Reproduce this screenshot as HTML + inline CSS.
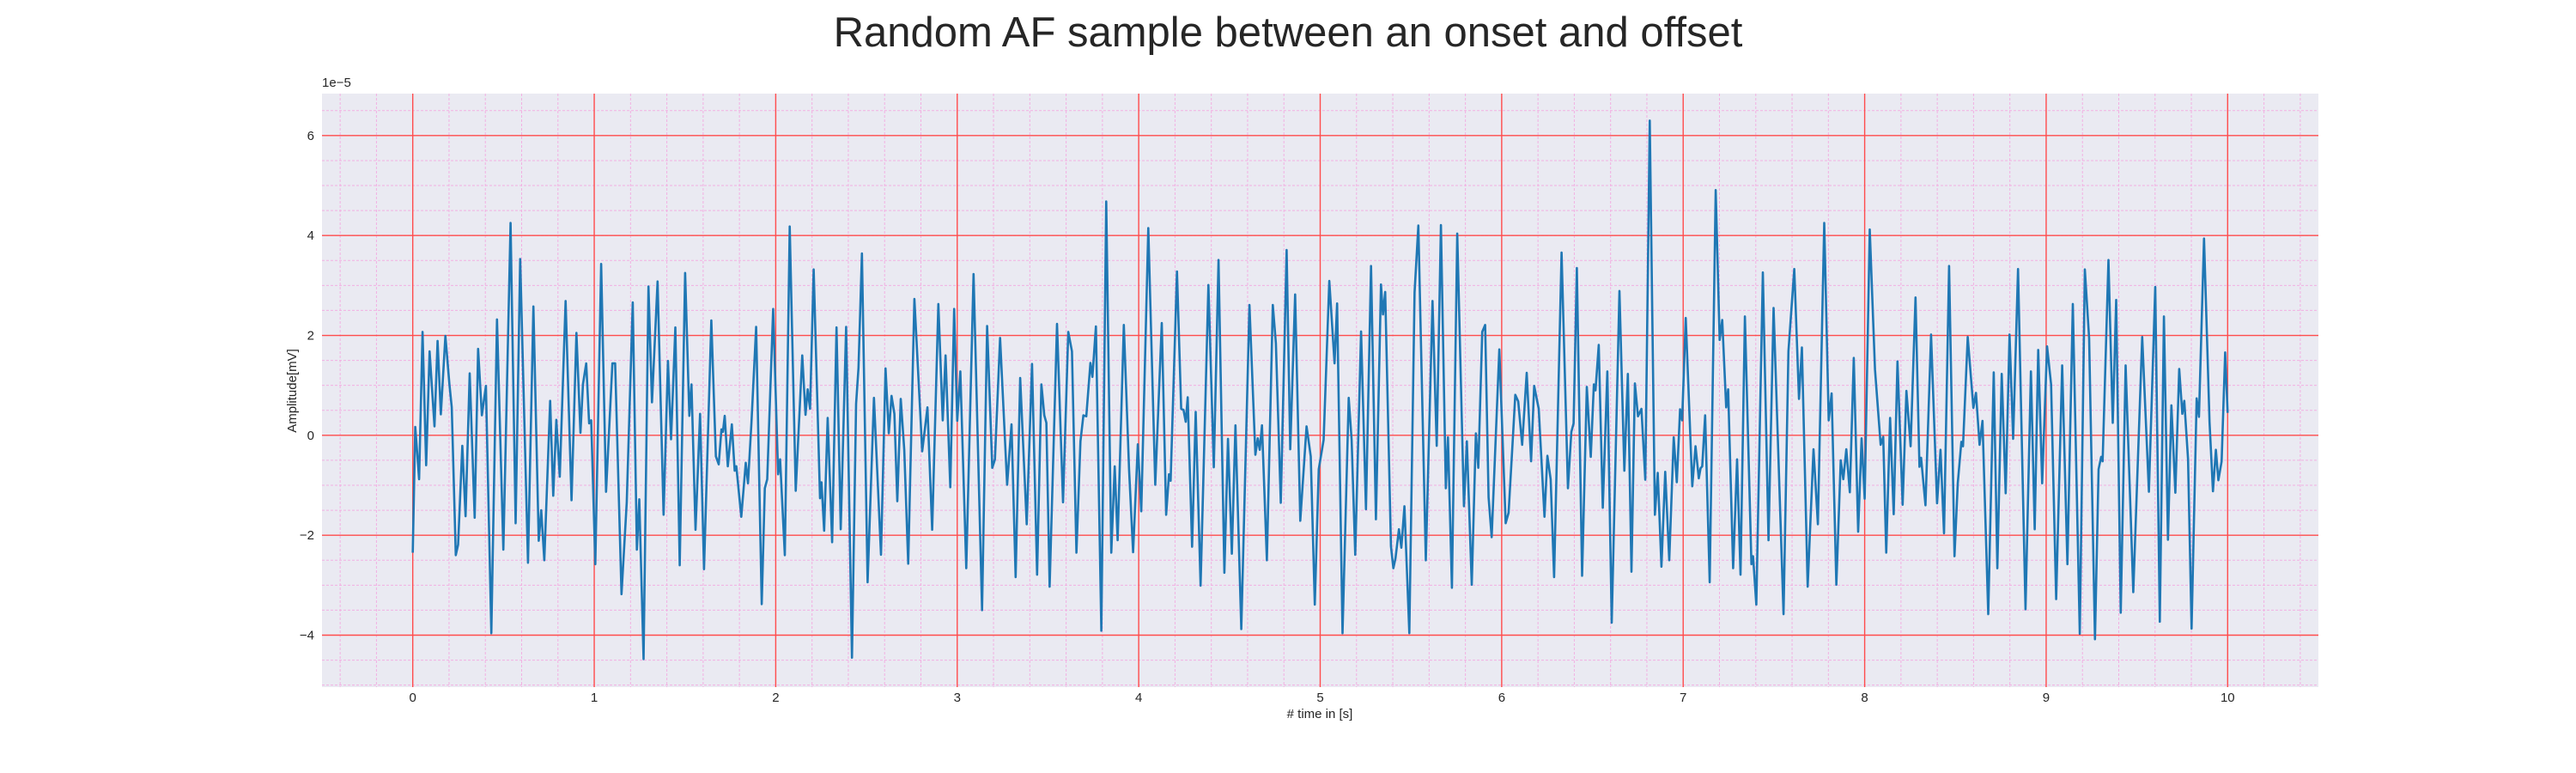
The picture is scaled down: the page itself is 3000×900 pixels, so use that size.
<!DOCTYPE html>
<html><head><meta charset="utf-8">
<style>
html,body{margin:0;padding:0;background:#fff;}
svg{display:block;font-family:"Liberation Sans",sans-serif;}
</style></head>
<body>
<svg id="chart" width="3000" height="900" viewBox="0 0 3000 900" xmlns="http://www.w3.org/2000/svg">
<text x="1500" y="54" text-anchor="middle" font-size="49" fill="#262626">Random AF sample between an onset and offset</text>
<rect x="375" y="109" width="2325" height="691" fill="#eaeaf2"/>
<g id="grid"></g>
<g id="ticks"></g>
<path id="series" fill="none" stroke="#1f77b4" stroke-width="2.6" stroke-linejoin="round"/>
<text x="375" y="101" font-size="15" fill="#262626">1e−5</text>
<text x="1537" y="836" text-anchor="middle" font-size="15" fill="#262626"># time in [s]</text>
<text x="0" y="0" transform="translate(345,455) rotate(-90)" text-anchor="middle" font-size="15" fill="#262626">Amplitude[mV]</text>
</svg>
<script>
const xTicks=[0,1,2,3,4,5,6,7,8,9,10];
const yTicks=[-4,-2,0,2,4,6];
const times=[0,0.014,0.035,0.054,0.074,0.093,0.12,0.137,0.155,0.18,0.202,0.215,0.237,0.25,0.273,0.291,0.314,0.341,0.36,0.381,0.403,0.433,0.464,0.499,0.539,0.567,0.592,0.635,0.665,0.694,0.708,0.725,0.757,0.774,0.791,0.81,0.842,0.875,0.902,0.924,0.938,0.956,0.972,0.983,1.006,1.038,1.065,1.1,1.115,1.15,1.179,1.212,1.235,1.248,1.272,1.299,1.318,1.349,1.382,1.406,1.423,1.447,1.471,1.501,1.524,1.536,1.558,1.583,1.605,1.645,
1.67,1.686,1.701,1.709,1.719,1.736,1.758,1.774,1.783,1.81,1.835,1.847,1.866,1.892,1.923,1.94,1.953,1.986,2.013,2.024,2.05,2.077,2.11,2.146,2.164,2.176,2.189,2.209,2.244,2.252,2.267,2.286,2.311,2.335,2.358,2.388,2.42,2.443,2.456,2.475,2.506,2.541,2.58,2.605,2.623,2.638,2.654,2.67,2.689,2.708,2.73,2.764,2.807,2.836,2.862,2.896,2.92,2.936,2.962,2.983,3.0,3.017,3.05,3.09,3.137,3.165,3.193,3.208,3.236,3.275,3.299,3.322,3.347,3.383,
3.412,3.44,3.464,3.48,3.491,3.509,3.55,3.583,3.612,3.632,3.657,3.679,3.695,3.711,3.734,3.745,3.764,3.794,3.821,3.849,3.868,3.884,3.918,3.947,3.969,3.995,4.014,4.053,4.091,4.127,4.151,4.167,4.176,4.211,4.234,4.247,4.259,4.27,4.294,4.314,4.341,4.384,4.414,4.44,4.472,4.492,4.513,4.533,4.565,4.61,4.643,4.656,4.667,4.679,4.706,4.739,4.756,4.783,4.815,4.835,4.862,4.89,4.925,4.948,4.97,4.992,5.019,5.05,5.079,5.093,5.123,
5.157,5.173,5.193,5.225,5.252,5.28,5.307,5.335,5.346,5.358,5.39,5.403,5.415,5.434,5.447,5.464,5.491,5.52,5.541,5.582,5.619,5.642,5.665,5.692,5.704,5.726,5.755,5.792,5.808,5.835,5.858,5.871,5.893,5.909,5.928,5.945,5.987,6.022,6.038,6.058,6.075,6.091,6.113,6.138,6.162,6.179,6.204,6.236,6.252,6.27,6.289,6.33,6.365,6.384,6.396,6.414,6.443,6.469,6.491,6.508,6.517,6.535,6.557,6.582,6.606,6.649,6.676,6.695,6.715,6.734,6.751,6.77,6.791,6.816,6.844,6.86,6.88,
6.901,6.923,6.948,6.965,6.983,6.994,7.014,7.05,7.068,7.086,7.096,7.105,7.121,7.146,7.179,7.201,7.215,7.237,7.248,7.275,7.297,7.316,7.34,7.376,7.385,7.403,7.439,7.47,7.498,7.553,7.58,7.612,7.638,7.654,7.686,7.718,7.742,7.777,7.802,7.818,7.844,7.868,7.882,7.899,7.918,7.94,7.964,7.983,8.0,8.028,8.057,8.088,8.102,8.119,8.14,8.16,8.181,8.209,8.23,8.253,8.28,8.302,8.311,8.335,8.366,8.399,8.418,8.437,8.465,8.495,8.513,8.533,8.542,8.568,8.599,8.613,8.633,8.649,
8.681,8.711,8.731,8.755,8.777,8.798,8.818,8.845,8.886,8.916,8.937,8.956,8.978,9.005,9.027,9.055,9.088,9.117,9.147,9.185,9.213,9.237,9.269,9.289,9.303,9.311,9.343,9.367,9.386,9.411,9.438,9.48,9.529,9.566,9.601,9.626,9.649,9.671,9.69,9.712,9.733,9.75,9.761,9.782,9.801,9.829,9.842,9.87,9.9,9.919,9.935,9.949,9.967,9.986,10.0];
const amps=[-2.35,0.17,-0.88,2.07,-0.6,1.68,0.18,1.89,0.42,1.99,1.02,0.56,-2.4,-2.19,-0.21,-1.62,1.24,-1.65,1.73,0.4,0.99,-3.96,2.32,-2.29,4.25,-1.76,3.53,-2.55,2.58,-2.11,-1.5,-2.5,0.69,-1.21,0.31,-0.83,2.69,-1.3,2.05,0.05,1.02,1.44,0.24,0.3,-2.58,3.43,-1.13,1.44,1.44,-3.18,-1.34,2.66,-2.29,-1.28,-4.48,2.98,0.66,3.08,-1.59,1.49,-0.08,2.16,-2.6,3.25,0.39,1.02,-1.89,0.43,-2.68,2.3,
-0.42,-0.58,0.12,0.07,0.39,-0.62,0.22,-0.71,-0.62,-1.63,-0.55,-0.96,0.24,2.17,-3.38,-1.06,-0.88,2.53,-0.78,-0.48,-2.4,4.18,-1.11,1.6,0.41,0.92,0.53,3.32,-1.26,-0.94,-1.91,0.35,-2.14,2.16,-1.88,2.17,-4.45,0.63,1.35,3.64,-2.94,0.75,-2.39,1.34,0.04,0.79,0.43,-1.32,0.73,-0.29,-2.57,2.73,-0.32,0.56,-1.89,2.63,0.3,1.6,-1.04,2.53,0.29,1.28,-2.66,3.23,-3.5,2.19,-0.65,-0.48,1.95,-0.99,0.22,-2.84,1.15,-1.78,
1.43,-2.79,1.02,0.4,0.25,-3.03,2.23,-1.34,2.07,1.68,-2.35,-0.12,0.4,0.38,1.45,1.17,2.18,-3.91,4.68,-2.35,-0.62,-2.1,2.21,-0.68,-2.34,-0.18,-1.52,4.15,-0.99,2.25,-1.59,-0.78,-0.91,3.28,0.53,0.51,0.27,0.76,-2.23,0.47,-3.01,3.01,-0.64,3.51,-2.75,-0.07,-2.37,0.2,-3.88,2.61,-0.39,-0.06,-0.29,0.2,-2.5,2.61,1.84,-1.35,3.71,-0.28,2.82,-1.71,0.18,-0.42,-3.39,-0.68,-0.09,3.09,1.44,2.64,-3.96,
0.75,-0.09,-2.39,2.08,-1.48,3.39,-1.68,3.02,2.42,2.87,-2.22,-2.66,-2.46,-1.88,-2.25,-1.42,-3.96,2.86,4.2,-2.5,2.69,-0.21,4.21,-1.06,-0.04,-3.05,4.04,-1.42,-0.12,-2.99,0.04,-0.65,2.07,2.21,-1.24,-2.04,1.72,-1.76,-1.55,-0.29,0.81,0.68,-0.19,1.25,-0.52,0.99,0.53,-1.63,-0.41,-0.88,-2.84,3.66,-1.06,0.07,0.24,3.35,-2.81,0.97,-0.43,1.02,0.9,1.81,-1.45,1.28,-3.75,2.89,-0.71,1.23,-2.73,1.04,0.38,0.53,-0.89,6.3,-1.59,-0.75,-2.63,
-0.73,-2.5,-0.04,-0.94,0.52,0.3,2.35,-1.02,-0.22,-0.86,-0.66,-0.62,0.4,-2.94,4.91,1.91,2.31,0.56,0.92,-2.66,-0.48,-2.79,2.38,-2.58,-2.42,-3.39,3.26,-2.1,2.55,-3.58,1.68,3.33,0.73,1.76,-3.03,-0.28,-1.78,4.25,0.3,0.84,-2.99,-0.5,-0.88,-0.28,-1.14,1.55,-1.93,-0.06,-1.27,4.12,1.32,-0.19,-0.03,-2.35,0.35,-1.58,1.48,-1.39,0.89,-0.22,2.76,-0.63,-0.45,-1.4,2.02,-1.36,-0.29,-1.96,3.39,-2.42,-0.96,-0.13,-0.22,1.97,0.55,0.85,-0.19,0.29,
-3.58,1.26,-2.66,1.23,-1.16,2.02,-0.07,3.33,-3.48,1.28,-1.88,1.71,-0.96,1.78,1.02,-3.28,1.4,-2.58,2.63,-3.97,3.32,1.94,-4.08,-0.68,-0.43,-0.52,3.51,0.25,2.71,-3.55,1.4,-3.14,1.97,-1.13,2.97,-3.73,2.38,-2.09,0.6,-1.15,1.33,0.43,0.69,-0.48,-3.87,0.74,0.37,3.94,0.27,-1.12,-0.29,-0.9,-0.52,1.66,0.45];

const X0=375,X1=2700,Y0=109,Y1=800,XMIN=-0.5,XMAX=10.5,YMIN=-5.04,YMAX=6.84;
function sx(t){return X0+(t-XMIN)/(XMAX-XMIN)*(X1-X0);}
function sy(v){return Y1-(v-YMIN)/(YMAX-YMIN)*(Y1-Y0);}
const NS='http://www.w3.org/2000/svg';
const grid=document.getElementById('grid'), ticks=document.getElementById('ticks');
function line(parent,x1,y1,x2,y2,stroke,w,dash){const l=document.createElementNS(NS,'line');l.setAttribute('x1',x1);l.setAttribute('y1',y1);l.setAttribute('x2',x2);l.setAttribute('y2',y2);l.setAttribute('stroke',stroke);l.setAttribute('stroke-width',w);if(dash)l.setAttribute('stroke-dasharray',dash);parent.appendChild(l);return l;}
for(let i=-2;i<=52;i++){const t=i*0.2;if(t<XMIN||t>XMAX)continue;const l=line(grid,sx(t),Y0,sx(t),Y1,'#f2b0e2',1,'3,2');

}
for(let i=-10;i<=13;i++){const v=i*0.5;if(v<YMIN||v>YMAX)continue;const l=line(grid,X0,sy(v),X1,sy(v),'#f2b0e2',1,'3,2');

}
xTicks.forEach(t=>{const l=line(grid,sx(t),Y0,sx(t),Y1,'#ff4c4c',1.4);


const tx=document.createElementNS(NS,'text');tx.setAttribute('x',sx(t));tx.setAttribute('y',817);tx.setAttribute('text-anchor','middle');tx.setAttribute('font-size','15');tx.setAttribute('fill','#262626');tx.textContent=String(t);


ticks.appendChild(tx);});
yTicks.forEach(v=>{const l=line(grid,X0,sy(v),X1,sy(v),'#ff4c4c',1.4);


const tx=document.createElementNS(NS,'text');tx.setAttribute('x',366);tx.setAttribute('y',sy(v)+5);tx.setAttribute('text-anchor','end');tx.setAttribute('font-size','15');tx.setAttribute('fill','#262626');tx.textContent=(v<0?'\u2212'+(-v):String(v));


ticks.appendChild(tx);});
let d='';
for(let i=0;i<times.length&&i<amps.length;i++){d+=(i?'L':'M')+sx(times[i]).toFixed(1)+','+sy(amps[i]).toFixed(1);}
document.getElementById('series').setAttribute('d',d);
</script>
</body></html>
